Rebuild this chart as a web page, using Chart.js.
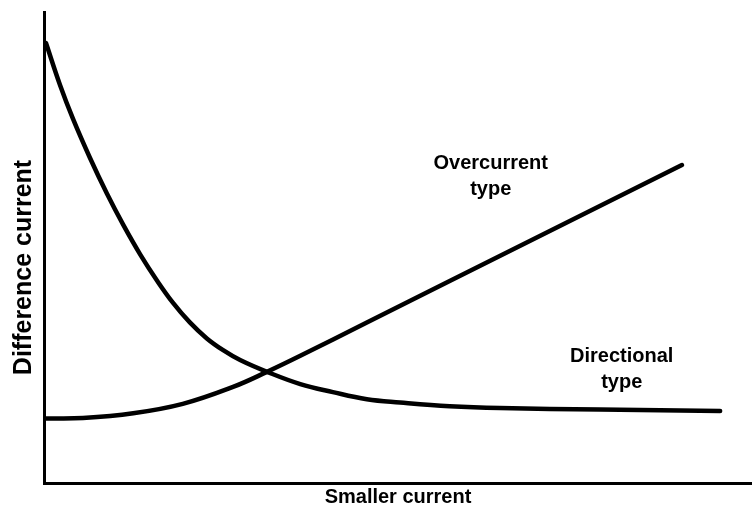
<!DOCTYPE html>
<html>
<head>
<meta charset="utf-8">
<script src="https://cdn.jsdelivr.net/npm/chart.js@4.4.1/dist/chart.umd.min.js"></script>
<style>
  html, body { margin: 0; padding: 0; background: #fff; }
  #wrap { width: 752px; height: 514px; }
</style>
</head>
<body>
<div id="wrap"><canvas id="c" width="752" height="514"></canvas></div>
<script>
// Smaller current (arbitrary units) sampled along each characteristic
const directionalX = [0.028, 0.226, 0.41, 0.65, 0.89, 1.12, 1.36, 1.60, 1.82, 2.06, 2.30, 2.53, 2.77, 3.15, 3.62, 4.08, 4.56, 5.03, 5.73, 6.44, 7.85, 9.55];
const directionalY = [9.34, 8.45, 7.73, 6.90, 6.14, 5.48, 4.85, 4.29, 3.83, 3.41, 3.07, 2.82, 2.61, 2.36, 2.10, 1.93, 1.78, 1.71, 1.63, 1.59, 1.56, 1.53];

const overcurrentX = [0.028, 0.55, 1.26, 1.96, 2.67, 3.15, 3.62, 4.56, 5.73, 9.01];
const overcurrentY = [1.37, 1.38, 1.48, 1.68, 2.04, 2.36, 2.70, 3.41, 4.29, 6.75];

const curveNames = ['Directional type', 'Overcurrent type'];
const axisTitles = ['Smaller current', 'Difference current'];

// Curve labels, placed in data coordinates
const curveLabels = [
  { lines: ['Overcurrent', 'type'], x: 6.31, y: 6.51 },
  { lines: ['Directional', 'type'], x: 8.16, y: 2.41 }
];

const FONT = '"Liberation Sans", Arial, sans-serif';

const toPoints = (xs, ys) => xs.map((x, i) => ({ x, y: ys[i] }));

const labelPlugin = {
  id: 'curveLabels',
  afterDatasetsDraw(chart) {
    const { ctx, scales, chartArea } = chart;
    ctx.save();
    ctx.fillStyle = '#000';
    ctx.textAlign = 'center';
    ctx.textBaseline = 'middle';

    // curve names beside each characteristic
    ctx.font = 'bold 20px ' + FONT;
    curveLabels.forEach(l => {
      const cx = scales.x.getPixelForValue(l.x);
      const cy = scales.y.getPixelForValue(l.y);
      const lh = 26;
      l.lines.forEach((t, i) => {
        ctx.fillText(t, cx, cy + (i - (l.lines.length - 1) / 2) * lh);
      });
    });

    // vertical axis title, set a little below the middle of the axis
    ctx.font = 'bold 25px ' + FONT;
    ctx.translate(chartArea.left - 20, (chartArea.top + chartArea.bottom) / 2 + 20);
    ctx.rotate(-Math.PI / 2);
    ctx.fillText(axisTitles[1], 0, 0);
    ctx.restore();
  }
};

const lineStyle = {
  showLine: true,
  borderColor: '#000',
  borderWidth: 4.5,
  pointRadius: 0,
  tension: 0.4,
  borderCapStyle: 'round',
  borderJoinStyle: 'round'
};

new Chart(document.getElementById('c'), {
  type: 'scatter',
  data: {
    datasets: [
      Object.assign({ label: curveNames[0], data: toPoints(directionalX, directionalY) }, lineStyle),
      Object.assign({ label: curveNames[1], data: toPoints(overcurrentX, overcurrentY) }, lineStyle)
    ]
  },
  options: {
    responsive: false,
    animation: false,
    layout: { padding: { left: 44, top: 12, right: 0, bottom: 0 } },
    plugins: { legend: { display: false }, tooltip: { enabled: false } },
    scales: {
      x: {
        type: 'linear',
        min: 0, max: 10,
        grid: { display: false, drawTicks: false },
        border: { display: true, color: '#000', width: 3 },
        ticks: { display: false },
        title: {
          display: true,
          text: axisTitles[0],
          color: '#000',
          font: { family: FONT, size: 20, weight: 'bold' },
          padding: { top: 2, bottom: 5 }
        }
      },
      y: {
        type: 'linear',
        min: 0, max: 10,
        grid: { display: false, drawTicks: false },
        border: { display: true, color: '#000', width: 3 },
        ticks: { display: false },
        title: { display: false }
      }
    }
  },
  plugins: [labelPlugin]
});
</script>
</body>
</html>
